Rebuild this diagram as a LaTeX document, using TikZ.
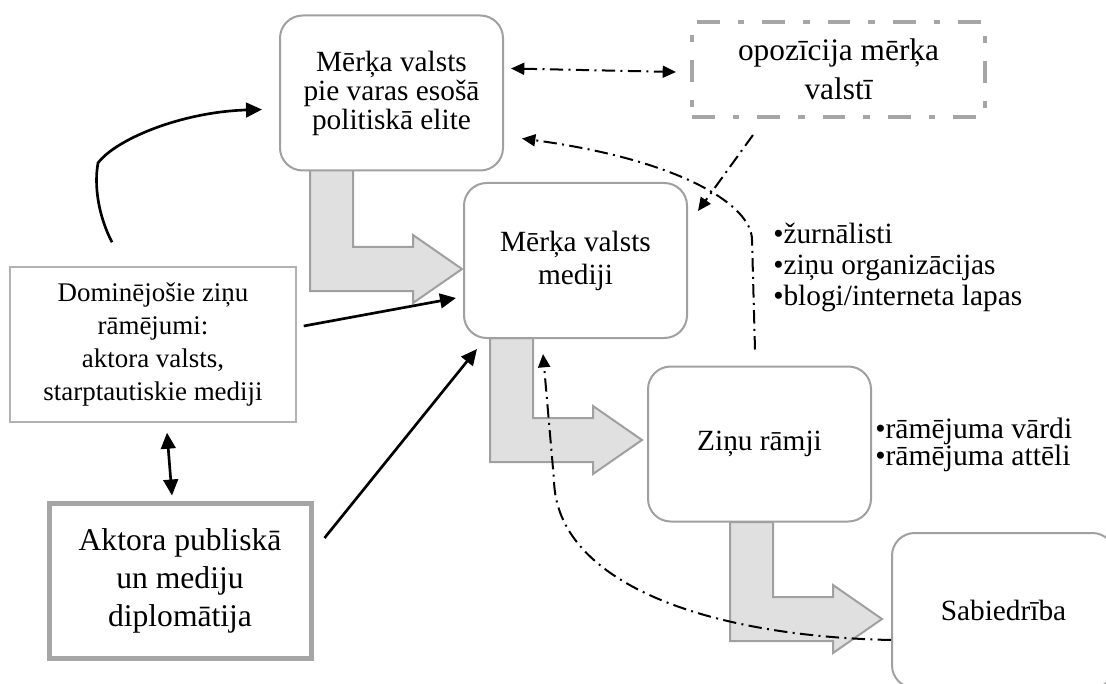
\documentclass[tikz,border=0pt]{standalone}
\usepackage{fontspec}
\setmainfont{Liberation Serif}
\usetikzlibrary{calc,arrows.meta}

\definecolor{boxgray}{RGB}{160,160,160}
\definecolor{edgegray}{RGB}{178,178,178}
\definecolor{thickgray}{RGB}{166,166,166}
\definecolor{fatfill}{RGB}{224,224,224}

\tikzset{
  bigtip/.tip={Triangle[length=12pt,width=11pt]},
  smalltip/.tip={Triangle[length=10pt,width=9pt]},
  roundbox/.style={draw=boxgray, line width=1.5pt, fill=white, rounded corners=17pt,
    minimum width=167.25pt, minimum height=116.25pt, align=center, inner sep=0pt},
  plainbox/.style={draw=edgegray, line width=1.1pt, fill=white,
    minimum width=214.5pt, minimum height=116.25pt, align=center, inner sep=0pt,
    font=\fontsize{20.2}{24.75}\selectfont},
  thickbox/.style={draw=thickgray, line width=3.75pt, fill=white,
    minimum width=196.5pt, minimum height=116.25pt, align=center, inner sep=0pt,
    font=\fontsize{23.7}{28.5}\selectfont},
  dashbox/.style={draw=thickgray, line width=3pt, fill=white,
    dash pattern=on 17pt off 13.5pt on 5pt off 13.5pt,
    minimum width=219.75pt, minimum height=71.25pt, align=center, inner sep=0pt,
    font=\fontsize{23.5}{29}\selectfont},
  bulletlist/.style={anchor=west, align=left, inner sep=0pt},
  fatarrow/.style={draw=boxgray, line width=1.5pt, fill=fatfill},
  plainline/.style={line width=2pt},
  dashdot/.style={line width=1.5pt, dash pattern=on 10pt off 4pt on 1.5pt off 4pt}
}

\begin{document}
\begin{tikzpicture}[x=0.75pt, y=-0.75pt, font=\fontsize{22}{24.75}\selectfont]
  \clip (0,0) rectangle (1106,684);

  % fat arrows
  \foreach \x/\y/\d in {310/169/78, 490/338/80, 730/522/75}
    \draw[fatarrow, shift={(\x,\y)}] (0,0) -- (43,0) -- (43,\d) -- (103,\d) -- (103,\d-12)
      -- (152,\d+22) -- (103,\d+56) -- (103,\d+44) -- (0,\d+44) -- cycle;

  % boxes
  \node[roundbox, font=\fontsize{22}{21.75}\selectfont] (elite) at (391.5,93)
    {Mērķa valsts\\pie varas esošā\\politiskā elite};
  \node[dashbox] (opoz) at (838.5,69.5) {opozīcija mērķa\\valstī};
  \node[roundbox] (mediji) at (575.5,260.5) {Mērķa valsts\\mediji};
  \node[plainbox] (domin) at (153,344.5)
    {Dominējošie ziņu\\rāmējumi:\\aktora valsts,\\starptautiskie mediji};
  \node[thickbox] (aktors) at (180,580.5) {Aktora publiskā\\un mediju\\diplomātija};
  \node[roundbox] (ramji) at (759.5,444) {Ziņu rāmji};
  \node[roundbox] (sabiedr) at (1003.5,610.5) {Sabiedrība};

  % lists
  \node[bulletlist, font=\fontsize{22}{23.25}\selectfont] (medijilist) at (773,267)
    {•žurnālisti\\•ziņu organizācijas\\•blogi/interneta lapas};
  \node[bulletlist, font=\fontsize{22.2}{20.25}\selectfont] (ramjilist) at (875,445)
    {•rāmējuma vārdi\\•rāmējuma attēli};

  % connectors
  \draw[plainline, -bigtip] ($(domin.north)+(-41,-24)$) .. controls (98,215) and (94,185) .. (98,163)
    .. controls (115,140) and (180,112) .. ($(elite.west)+(-17,16.5)$);
  \draw[dashdot, smalltip-smalltip] ($(elite.east)+(7,-24.5)$) -- ($(opoz.west)+(-14,2.5)$);
  \draw[dashdot, -smalltip] ($(opoz.south)+(-85.5,16)$) -- ($(mediji.north east)+(10,29)$);
  \draw[dashdot, -smalltip] ($(ramji.north)+(-4.5,-16)$) -- (752,240)
    .. controls (752,205) and (680,160) .. ($(elite.east)+(18,45.5)$);
  \draw[plainline, -bigtip] ($(domin.east)+(7,-18.5)$) -- ($(mediji.west)+(-7,37.5)$);
  \draw[plainline, -bigtip] ($(aktors.east)+(11,-42.5)$) -- ($(mediji.south west)+(14,10)$);
  \draw[plainline, bigtip-bigtip] ($(domin.south)+(14,10)$) -- ($(aktors.north)+(-8,-5)$);
  \draw[dashdot, -smalltip] ($(sabiedr.west)+(0,29.5)$) .. controls (700,636) and (556,580) .. (554,480)
    -- ($(mediji.south)+(-32.5,15)$);
\end{tikzpicture}
\end{document}
